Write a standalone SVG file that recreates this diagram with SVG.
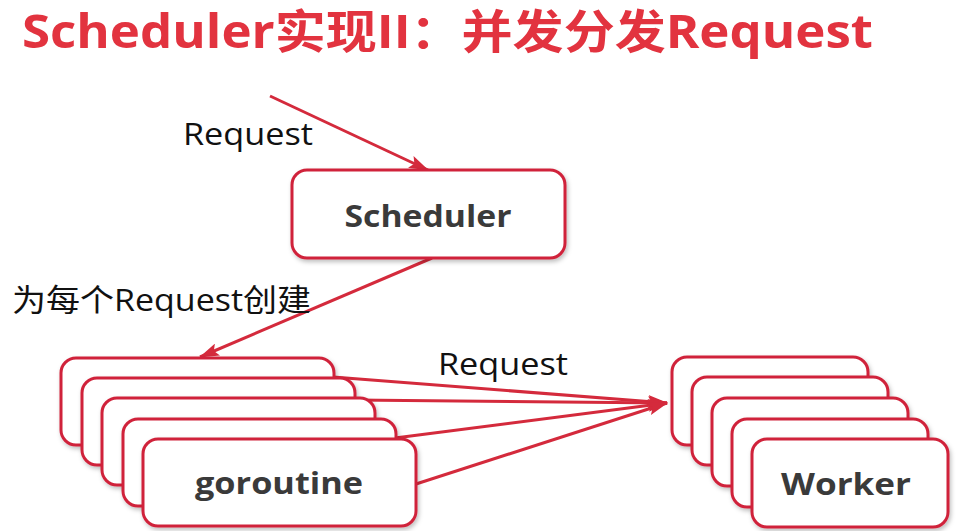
<svg xmlns="http://www.w3.org/2000/svg" width="958" height="531" viewBox="0 0 958 531">
  <style>
    .box { fill: #ffffff; stroke: #d0233a; stroke-width: 3; filter: url(#sh); }
    .conn { stroke: #d42a3c; stroke-width: 3; fill: none; }
    .lbl { font-family: "Open Sans", "Noto Sans CJK SC", sans-serif; font-size: 31px; fill: #111111; }
    .node { font-family: "Open Sans", "Liberation Sans", sans-serif; font-size: 31px; font-weight: bold; fill: #3a3a3a; text-anchor: middle; }
    .title { font-family: "Open Sans", "Noto Sans CJK SC", sans-serif; font-size: 46px; font-weight: bold; fill: #e2333f; }
  </style>
  <defs>
    <filter id="sh" x="-10%" y="-10%" width="125%" height="130%">
      <feDropShadow dx="1.5" dy="2.5" stdDeviation="2" flood-color="#000000" flood-opacity="0.25"/>
    </filter>
    <marker id="arr" markerUnits="userSpaceOnUse" viewBox="0 0 20 13" refX="19" refY="6.5" markerWidth="20" markerHeight="13" orient="auto">
      <path d="M0,0 L20,6.5 L0,13 L4,6.5 z" fill="#d42a3c"/>
    </marker>
  </defs>
  <rect width="958" height="531" fill="#ffffff"/>

  <text class="title" x="22" y="48" textLength="851" lengthAdjust="spacingAndGlyphs">Scheduler实现II：并发分发Request</text>

  <g id="connectors">
    <line class="conn" x1="270" y1="96" x2="428" y2="170" marker-end="url(#arr)"/>
    <line class="conn" x1="432" y1="258" x2="200" y2="357" marker-end="url(#arr)"/>
    <line class="conn" x1="333" y1="377" x2="667" y2="403" marker-end="url(#arr)"/>
    <line class="conn" x1="353" y1="400" x2="667" y2="403" marker-end="url(#arr)"/>
    <line class="conn" x1="395" y1="438" x2="667" y2="403" marker-end="url(#arr)"/>
    <line class="conn" x1="416" y1="484" x2="667" y2="403" marker-end="url(#arr)"/>
    <text class="lbl" x="183" y="145" textLength="130" lengthAdjust="spacingAndGlyphs">Request</text>
    <text class="lbl" x="12" y="311" textLength="299" lengthAdjust="spacingAndGlyphs">为每个Request创建</text>
    <text class="lbl" x="438" y="375" textLength="130" lengthAdjust="spacingAndGlyphs">Request</text>
  </g>

  <g id="scheduler">
    <rect class="box" x="292" y="170" width="273" height="88" rx="15"/>
    <text class="node" x="428" y="227" textLength="167" lengthAdjust="spacingAndGlyphs">Scheduler</text>
  </g>

  <g id="goroutines">
    <rect class="box" x="61" y="358" width="273" height="87" rx="15"/>
    <rect class="box" x="82" y="378" width="273" height="87" rx="15"/>
    <rect class="box" x="102" y="398" width="273" height="87" rx="15"/>
    <rect class="box" x="123" y="419" width="273" height="87" rx="15"/>
    <rect class="box" x="143" y="439" width="273" height="87" rx="15"/>
    <text class="node" x="279" y="494" textLength="168" lengthAdjust="spacingAndGlyphs">goroutine</text>
  </g>

  <g id="workers">
    <rect class="box" x="672" y="357" width="196" height="88" rx="15"/>
    <rect class="box" x="692" y="377" width="196" height="88" rx="15"/>
    <rect class="box" x="712" y="398" width="196" height="88" rx="15"/>
    <rect class="box" x="732" y="419" width="196" height="88" rx="15"/>
    <rect class="box" x="752" y="439" width="196" height="88" rx="15"/>
    <text class="node" x="846" y="495" textLength="130" lengthAdjust="spacingAndGlyphs">Worker</text>
  </g>
</svg>
